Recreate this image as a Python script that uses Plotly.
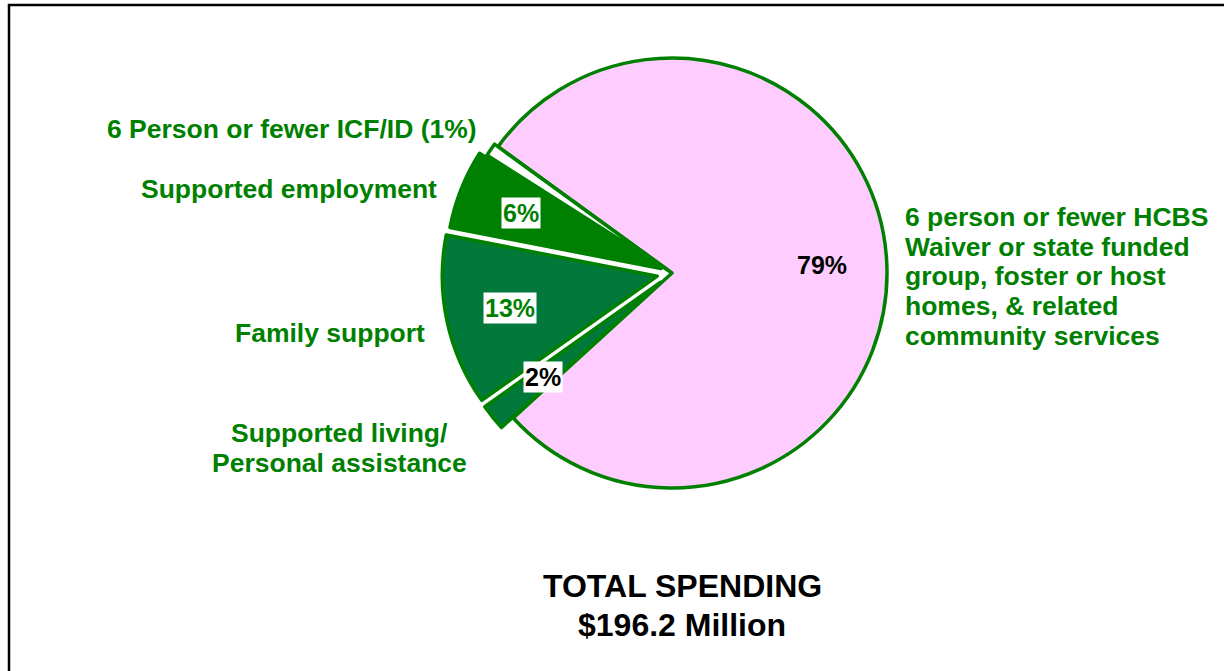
import math
import plotly.graph_objects as go

# ---- data ----
labels = [
    "6 person or fewer HCBS Waiver or state funded group, foster or host homes, & related community services",
    "Supported living/ Personal assistance",
    "Family support",
    "Supported employment",
    "6 Person or fewer ICF/ID",
]
values = [79, 2, 13, 6, 1]
pct_text = ["79%", "2%", "13%", "6%", ""]
pct_colors = ["#000000", "#000000", "#008000", "#008000", "#008000"]
slice_colors = ["#FFCCFF", "#00793A", "#00793A", "#008000", "#FFFFFF"]
pulls = [0, 0.07, 0.07, 0.055, 0.02]

# ---- layout constants ----
W, H = 1224, 671
CX, CY = 672, 273          # pie centre in pixels
R = 215                    # pie radius in pixels
ROT = 306
GREEN = "#008000"
FONT = "Arial, Liberation Sans, sans-serif"

half = R * (1 + max(pulls))
dom_x = [(CX - half) / W, (CX + half) / W]
dom_y = [1 - (CY + half) / H, 1 - (CY - half) / H]


def px(x):
    return x / W


def py(y):
    return 1 - y / H


fig = go.Figure(go.Pie(
    labels=labels,
    values=values,
    sort=False,
    direction="clockwise",
    rotation=ROT,
    pull=pulls,
    marker=dict(colors=slice_colors, line=dict(color=GREEN, width=3.5)),
    textinfo="none",
    hoverinfo="skip",
    showlegend=False,
    domain=dict(x=dom_x, y=dom_y),
))

annotations = []

# percentage labels placed at each slice's mid-angle
total = sum(values)
cum = 0
for v, t, c, p in zip(values, pct_text, pct_colors, pulls):
    mid = ROT + (cum + v / 2) / total * 360
    cum += v
    if not t:
        continue
    frac = 0.70 if p == 0 else 0.70 + p
    ang = math.radians(mid)
    x = CX + frac * R * math.sin(ang)
    y = CY - frac * R * math.cos(ang)
    annotations.append(dict(
        x=px(x), y=py(y), xref="paper", yref="paper", text=f"<b>{t}</b>",
        showarrow=False, font=dict(family=FONT, size=25, color=c),
        bgcolor="#FFFFFF" if p else "rgba(0,0,0,0)", borderpad=1,
        xanchor="center", yanchor="middle",
    ))

# outside category labels
label_lines = [
    (["6 Person or fewer ICF/ID (1%)"], 292, 129, "center"),
    (["Supported employment"], 289, 189, "center"),
    (["Family support"], 330, 333, "center"),
    (["Supported living/", "Personal assistance"], 339, 433, "center"),
    (["6 person or fewer HCBS", "Waiver or state funded", "group, foster or host",
      "homes, & related", "community services"], 903, 217, "left"),
]
LINE_H = 29.7
for lines, x, y0, anchor in label_lines:
    for i, line in enumerate(lines):
        annotations.append(dict(
            x=px(x), y=py(y0 + i * LINE_H), xref="paper", yref="paper",
            text=f"<b>{line}</b>", showarrow=False,
            font=dict(family=FONT, size=26.5, color=GREEN),
            xanchor=anchor, yanchor="middle",
        ))

# total spending title
for i, line in enumerate(["TOTAL SPENDING", "$196.2 Million"]):
    annotations.append(dict(
        x=px(682), y=py(586 + i * 39), xref="paper", yref="paper",
        text=f"<b>{line}</b>", showarrow=False,
        font=dict(family=FONT, size=32, color="#000000"),
        xanchor="center", yanchor="middle",
    ))

fig.update_layout(
    width=W, height=H,
    margin=dict(l=0, r=0, t=0, b=0),
    paper_bgcolor="#FFFFFF",
    plot_bgcolor="#FFFFFF",
    annotations=annotations,
    shapes=[dict(type="rect", xref="paper", yref="paper",
                 x0=px(9), x1=1.02, y0=-0.02, y1=py(5),
                 line=dict(color="#000000", width=2.5))],
)

fig.write_html(
    "out.html",
    config={"displayModeBar": False},
    post_script="document.body.style.margin='0';document.body.style.overflow='hidden';",
)
